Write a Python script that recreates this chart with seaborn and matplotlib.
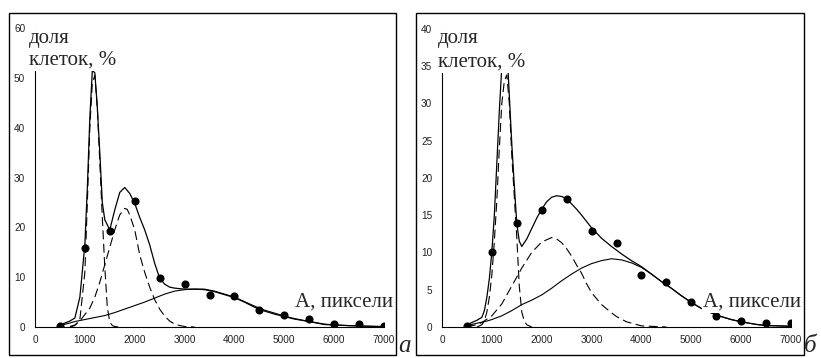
import numpy as np
import pandas as pd
import matplotlib
matplotlib.use("Agg")
import matplotlib.pyplot as plt
from matplotlib.patches import Rectangle
import seaborn as sns

# ---------------- data ----------------
x_dots = [500, 1000, 1500, 2000, 2500, 3000, 3500, 4000, 4500, 5000, 5500, 6000, 6500, 7000]
a_dots = [0.2, 15.8, 19.3, 25.2, 9.9, 8.6, 6.4, 6.2, 3.4, 2.4, 1.7, 0.6, 0.7, 0.2]
b_dots = [0.2, 10.1, 13.9, 15.7, 17.2, 12.9, 11.2, 7.0, 6.1, 3.3, 1.5, 0.85, 0.5, 0.6]

# panel a curves
a_total_x = [500, 600, 700, 800, 900, 1000, 1050, 1100, 1150, 1200, 1250, 1300, 1350, 1400, 1450,
             1500, 1600, 1700, 1800, 1900, 2000, 2100, 2200, 2300, 2400, 2500, 2600, 2700, 2800,
             3000, 3200, 3400, 3600, 3800, 4000, 4200, 4400, 4600, 4800, 5000, 5200, 5500, 5800,
             6000, 6500, 7000]
a_total_y = [0.4, 0.8, 1.2, 1.8, 6.0, 16.5, 28, 42, 51.5, 51.0, 44, 35, 25, 21.5, 20.5,
             19.5, 23.5, 27.0, 28.0, 26.8, 24.8, 22.0, 19.5, 16.5, 12.8, 9.8, 8.6, 8.0, 7.8,
             7.6, 7.6, 7.5, 7.1, 6.5, 5.9, 5.0, 4.0, 3.2, 2.6, 2.1, 1.6, 1.1, 0.5,
             0.4, 0.2, 0.1]

a_c1_x = [700, 800, 900, 1000, 1050, 1100, 1150, 1200, 1250, 1300, 1350, 1400, 1450, 1500, 1550, 1600, 1700]
a_c1_y = [0, 0.3, 1.5, 11, 25, 40, 49, 50.5, 44, 33, 22, 12, 4, 1.0, 0.3, 0.1, 0]

a_c2_x = [700, 800, 900, 1000, 1100, 1200, 1300, 1400, 1500, 1600, 1700, 1800, 1850, 1900, 2000,
          2100, 2200, 2300, 2400, 2500, 2600, 2700, 2800, 2900, 3000, 3200]
a_c2_y = [0.1, 0.4, 1.2, 2.5, 3.8, 6, 9, 12.5, 16, 19.5, 22.5, 23.8, 23.6, 22.5, 19.5,
          14.5, 11, 8, 5.5, 3.6, 2.2, 1.2, 0.6, 0.3, 0.1, 0]

a_c3_x = [500, 700, 800, 1000, 1200, 1400, 1600, 1800, 2000, 2200, 2400, 2600, 2800, 3000, 3200,
          3400, 3600, 3800, 4000, 4200, 4400, 4600, 4800, 5000, 5200, 5500, 5800, 6000, 6500, 7000]
a_c3_y = [0.3, 0.8, 1.1, 1.5, 1.9, 2.3, 2.9, 3.6, 4.3, 5.0, 5.8, 6.6, 7.2, 7.5, 7.6,
          7.6, 7.2, 6.6, 6.0, 5.1, 4.2, 3.4, 2.8, 2.2, 1.7, 1.1, 0.6, 0.4, 0.2, 0.05]

# panel b curves
b_total_x = [500, 600, 700, 800, 850, 900, 950, 1000, 1050, 1100, 1150, 1200, 1250, 1320, 1400,
             1450, 1500, 1550, 1600, 1700, 1800, 1900, 2000, 2100, 2200, 2300, 2400, 2500, 2600,
             2700, 2800, 3000, 3200, 3400, 3600, 3800, 4000, 4200, 4400, 4600, 4800, 5000, 5200,
             5500, 5800, 6000, 6300, 6500, 7000]
b_total_y = [0.3, 0.6, 0.9, 1.3, 2.2, 4.0, 6.5, 10.1, 15, 22, 29, 35, 37, 35, 24.5,
             19, 13.9, 11.5, 10.8, 11.8, 13.2, 14.6, 15.8, 16.8, 17.4, 17.6, 17.5, 17.2, 16.5,
             15.8, 15.0, 13.3, 11.9, 10.8, 9.8, 8.9, 8.1, 7.1, 6.1, 5.2, 4.2, 3.3, 2.5,
             1.6, 1.0, 0.7, 0.35, 0.2, 0.1]

b_c1_x = [700, 800, 850, 900, 950, 1000, 1050, 1100, 1150, 1200, 1250, 1300, 1350, 1400, 1450,
          1500, 1550, 1600, 1650, 1700, 1800]
b_c1_y = [0, 0.3, 0.8, 2.0, 4.0, 7.0, 11.5, 17, 24, 30, 33, 33.8, 30, 23, 17.5,
          12, 5.5, 2.0, 0.8, 0.3, 0]

b_c2_x = [500, 700, 800, 1000, 1200, 1400, 1500, 1600, 1800, 2000, 2200, 2300, 2400, 2500, 2600,
          2700, 2800, 2900, 3000, 3200, 3400, 3500, 3700, 4000, 4500]
b_c2_y = [0.05, 0.3, 0.6, 1.5, 3.1, 5.5, 6.7, 7.9, 10.0, 11.4, 12.0, 11.8, 11.3, 10.5, 9.5,
          8.3, 7.2, 5.8, 4.6, 3.0, 1.9, 1.4, 0.7, 0.15, 0]

b_c3_x = [500, 700, 900, 1000, 1200, 1400, 1600, 1800, 2000, 2200, 2400, 2600, 2800, 3000, 3200,
          3400, 3600, 3800, 4000, 4200, 4400, 4600, 4800, 5000, 5200, 5500, 5800, 6000, 6300, 6500, 7000]
b_c3_y = [0.2, 0.5, 0.8, 1.0, 1.5, 2.2, 3.0, 3.6, 4.3, 5.2, 6.2, 7.1, 7.9, 8.5, 8.9,
          9.15, 9.0, 8.6, 8.0, 7.1, 6.1, 5.2, 4.2, 3.3, 2.5, 1.6, 1.0, 0.7, 0.35, 0.2, 0.1]

x_ticks = [0, 1000, 2000, 3000, 4000, 5000, 6000, 7000]
a_yticks = [0, 10, 20, 30, 40, 50, 60]
b_yticks = [0, 5, 10, 15, 20, 25, 30, 35, 40]

ylabel_text = "доля\nклеток, %"
xlabel = "А, пиксели"

# ---------------- figure ----------------
sns.set_style("white")
plt.rcParams['font.family'] = ['Liberation Sans', 'DejaVu Sans']

W, H = 821, 358
fig = plt.figure(figsize=(W / 100, H / 100), dpi=100)

def fx(px):
    return px / W

def fy(py):
    return (H - py) / H

ax_a = fig.add_axes([fx(35), fy(327), fx(384) - fx(35), fy(28) - fy(327)])
ax_b = fig.add_axes([fx(442), fy(327), fx(791) - fx(442), fy(28.7) - fy(327)])

DASH = (0, (8, 4))
LW = 0.8

def draw(ax, dots, total, c1, c2, c3, ymax, yticks):
    sns.lineplot(x=c3[0], y=c3[1], ax=ax, color="black", lw=LW, sort=False, errorbar=None)
    sns.lineplot(x=c2[0], y=c2[1], ax=ax, color="black", lw=LW, linestyle=DASH, sort=False, errorbar=None)
    sns.lineplot(x=c1[0], y=c1[1], ax=ax, color="black", lw=LW, linestyle=DASH, sort=False, errorbar=None)
    sns.lineplot(x=total[0], y=total[1], ax=ax, color="black", lw=LW + 0.1, sort=False, errorbar=None)
    sns.scatterplot(x=x_dots, y=dots, ax=ax, color="black", s=34, edgecolor="black", linewidth=0, zorder=5)
    ax.set_xlim(0, 7000)
    ax.set_ylim(0, ymax)
    ax.set_xticks(x_ticks)
    ax.set_yticks(yticks)
    ax.set_xlabel("")
    ax.set_ylabel("")
    for s in ["top", "right"]:
        ax.spines[s].set_visible(False)
    for s in ["left", "bottom"]:
        ax.spines[s].set_color("black")
        ax.spines[s].set_linewidth(0.8)
    ax.tick_params(axis="both", direction="out", length=3, width=0.7, color="black",
                   labelsize=7.2, labelcolor="#222222", pad=3)
    ax.tick_params(axis="y", pad=4)
    ax.patch.set_alpha(0)

draw(ax_a, a_dots, (a_total_x, a_total_y), (a_c1_x, a_c1_y), (a_c2_x, a_c2_y),
     (a_c3_x, a_c3_y), 60, a_yticks)
draw(ax_b, b_dots, (b_total_x, b_total_y), (b_c1_x, b_c1_y), (b_c2_x, b_c2_y),
     (b_c3_x, b_c3_y), 40, b_yticks)

serif = ['Liberation Serif', 'DejaVu Serif']
bb = dict(facecolor="white", edgecolor="none", pad=0.6)
TS = 15

def label(px, py, s, ls=1.2):
    # py = baseline of the last line
    fig.text(fx(px), fy(py), s, family=serif, fontsize=TS, va="baseline", ha="left",
             bbox=bb, zorder=10, linespacing=ls)

# panel a labels
label(29, 65, ylabel_text, ls=1.23)
label(295, 307, xlabel)
# panel b labels
label(438, 67, ylabel_text, ls=1.33)
label(703, 307, xlabel)

# frames
fig.add_artist(Rectangle((fx(9), fy(355)), fx(396) - fx(9), fy(13) - fy(355),
                         transform=fig.transFigure, fill=False, edgecolor="black", lw=1.0))
fig.add_artist(Rectangle((fx(416), fy(355)), fx(804) - fx(416), fy(13) - fy(355),
                         transform=fig.transFigure, fill=False, edgecolor="black", lw=1.0))

# panel letters
fig.text(fx(398), fy(352), "а", family=serif, style="italic", fontsize=18, va="baseline", ha="left")
fig.text(fx(804), fy(352), "б", family=serif, style="italic", fontsize=18, va="baseline", ha="left")

fig.savefig("out.png", dpi=100)
